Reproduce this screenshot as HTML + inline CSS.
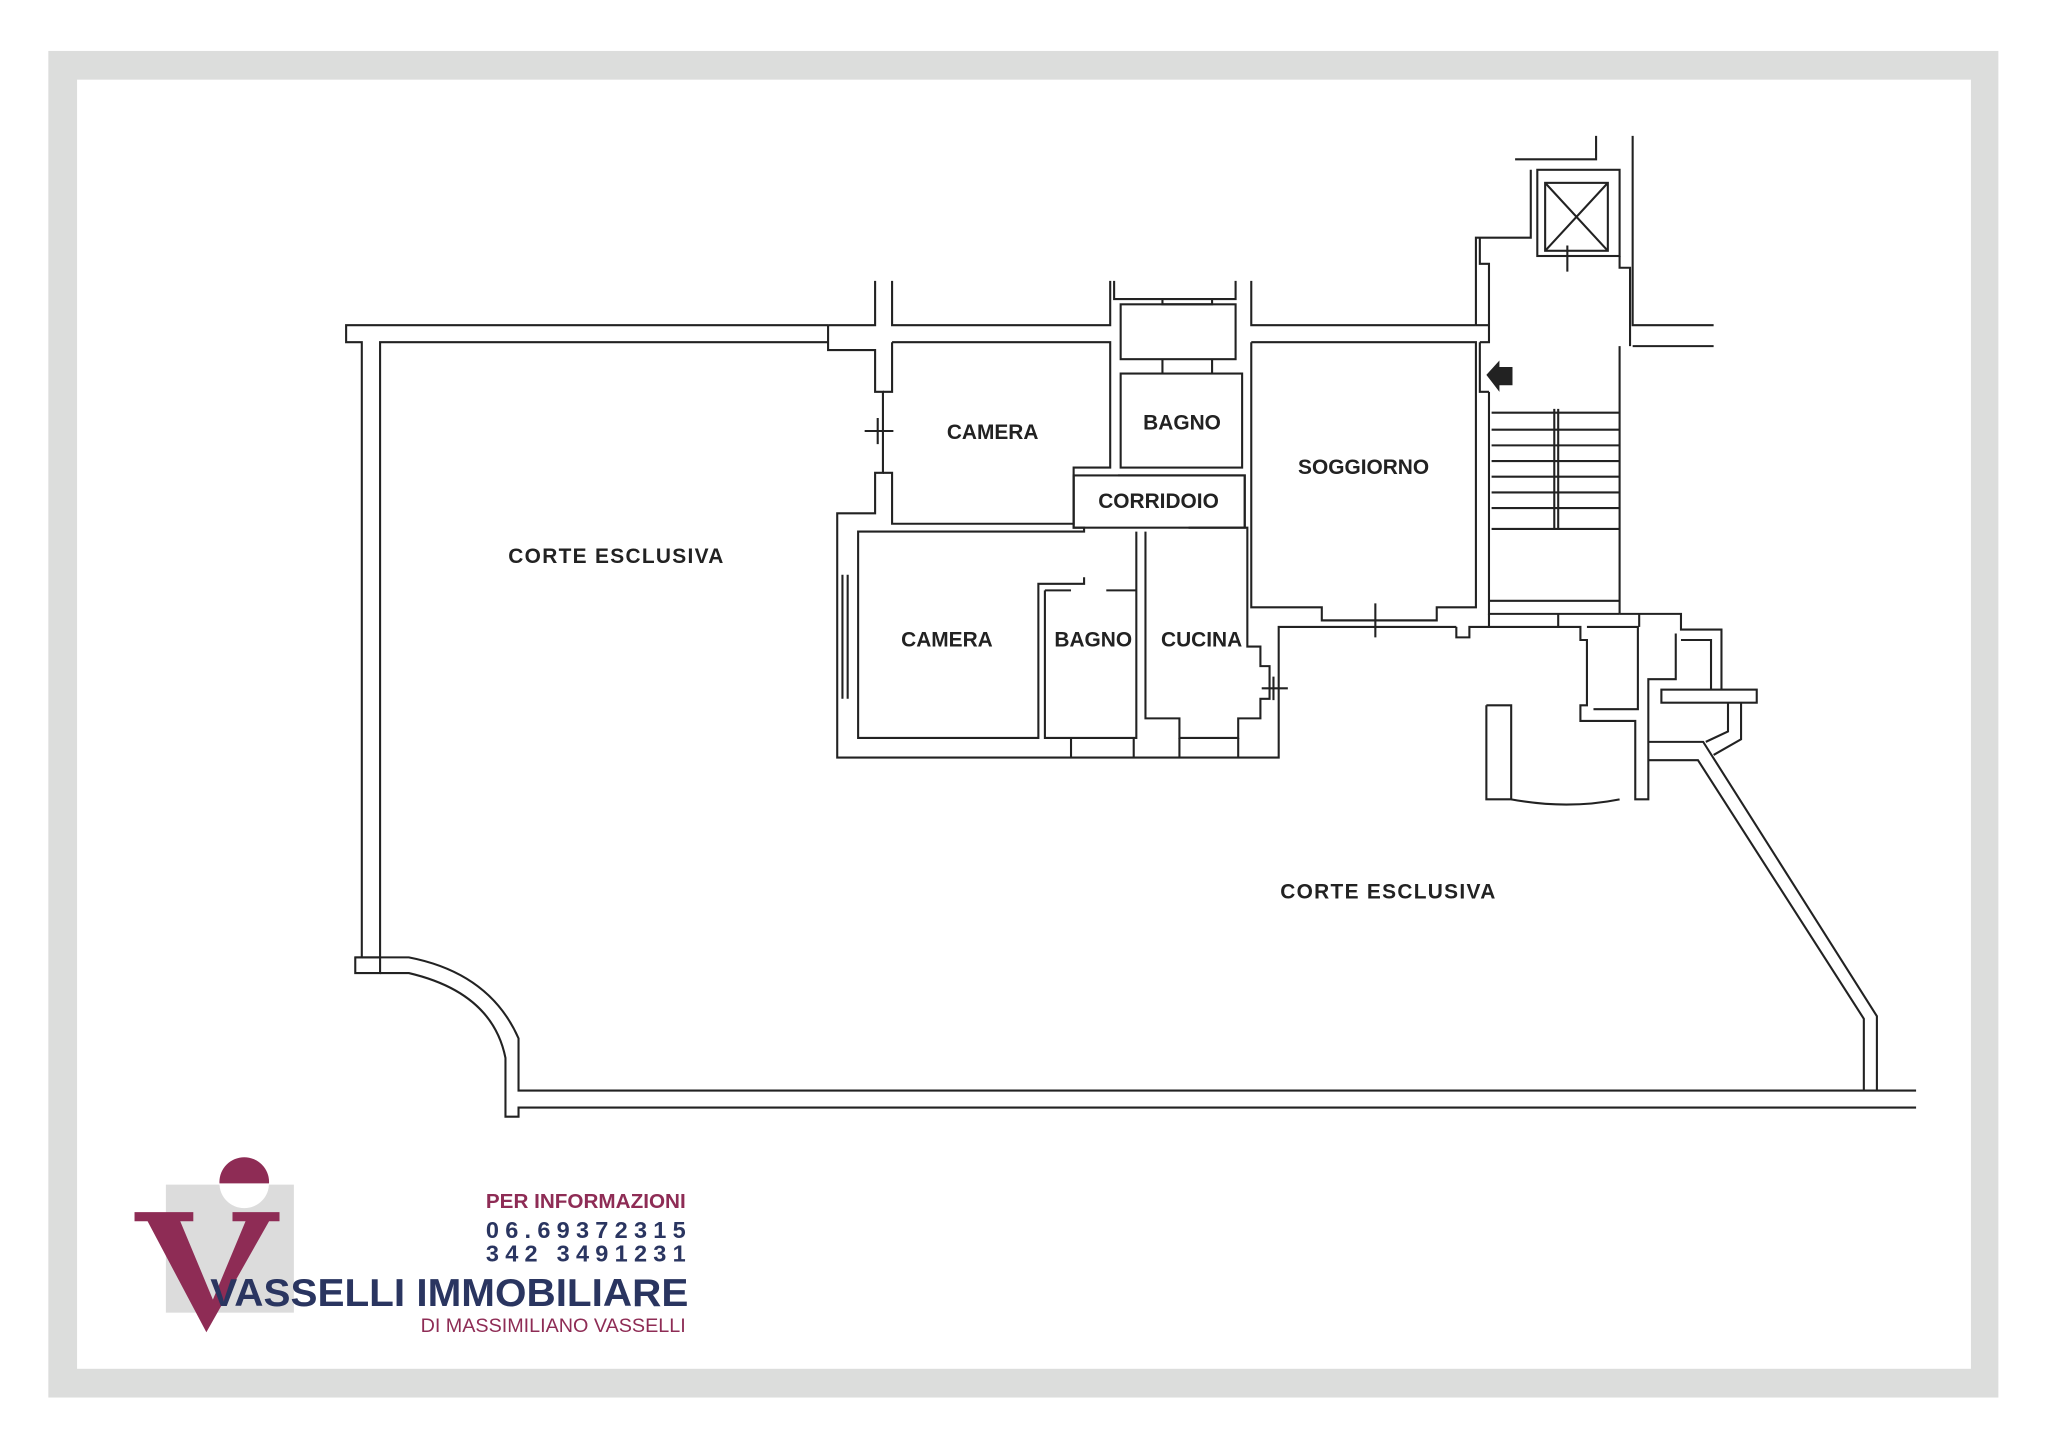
<!DOCTYPE html>
<html><head><meta charset="utf-8"><style>
html,body{margin:0;padding:0;background:#fff;}
svg{display:block}
</style></head><body>
<svg width="2048" height="1449" viewBox="0 0 1568 1109.4" preserveAspectRatio="none" xmlns="http://www.w3.org/2000/svg">
<rect x="0" y="0" width="1568" height="1110" fill="#fff"/>
<rect x="37" y="39" width="1493" height="1031" fill="#dcdddc"/>
<rect x="59" y="61" width="1450" height="987" fill="#fff"/>
<g fill="none" stroke="#222" stroke-width="1.6">
<polyline points="634,249 265,249 265,262 277,262 277,733 272,733 272,745 291,745 291,262 634,262"/>
<path d="M291,733 L277,733"/>
<path d="M272,733 L313,733 Q375,745 397,795 L397,835 L1467,835"/>
<path d="M291,745 L313,745 Q377,760 387,810 L387,855 L397,855 L397,848 L1467,848"/>
<polyline points="1262,582 1300,582 1427,780 1427,835"/>
<polyline points="1262,568 1304,568 1437,778 1437,835"/>
<polyline points="634,249 634,268 670,268 670,300 676,300 676,362 670,362 670,393 641,393 641,580 979,580 979,480 1115,480"/>
<polyline points="634,249 670,249 670,215"/>
<polyline points="683,215 683,249 850,249 850,215"/>
<polyline points="958,215 958,249 1130,249"/>
<path d="M645,440 V535 M649,440 V535"/>
<path d="M683,262 H850 V358 H822 V401 H683 V362 H676 M676,300 H683 V262"/>
<rect x="858" y="286" width="93" height="72"/>
<rect x="858" y="233" width="88" height="42"/>
<path d="M853,215 V229 H946 V215 M890,229 V233 H928 V229 M890,275 V286 M928,275 V286"/>
<polyline points="822,364 822,404 830,404 830,407 657,407 657,565 795,565 795,447 830,447 830,442"/>
<polyline points="856,364 953,364 953,404"/>
<rect x="822" y="364" width="131" height="40"/>
<polyline points="800,452 800,565 870,565 870,407"/>
<path d="M800,452 H820 M847,452 H870"/>
<polyline points="877,407 877,550 903,550 903,565 948,565 948,550 965,550 965,535 972,535 972,510 965,510 965,495 955,495 955,404 910,404"/>
<path d="M820,565 V580 M868,565 V580 M903,565 V580 M948,565 V580 M966,527 H986 M975,518 V536"/>
<polyline points="958,262 1130,262 1130,465 1100,465 1100,475 1012,475 1012,465 958,465 958,262"/>
<path d="M1012,475 H1100 M1053,462 V488 M662,330 H684 M672,320 V340"/>
<path d="M1130,249 V182 H1172 V130 M1160,122 H1222 V104 M1250,104 V249 H1312 M1250,265 H1312 M1240,265 V470"/>
<rect x="1177" y="130" width="63" height="66"/>
<rect x="1183" y="140" width="48" height="52"/>
<path d="M1183,140 L1231,192 M1231,140 L1183,192 M1200,188 V208"/>
<path d="M1133,182 V202 H1140 V262 H1133 M1140,300 V470 H1240 M1240,196 V205 H1248 V265 M1133,262 V300 H1140 M1130,249 H1140 V262"/>
<path d="M1142,316 H1240 M1142,329 H1240 M1142,341 H1240 M1142,353 H1240 M1142,365 H1240 M1142,377 H1240 M1142,389 H1240 M1142,405 H1240 M1190,313 V405 M1193,313 V405 M1140,460 H1240 M1140,470 V480 M1193,470 V480"/>
<polyline points="1115,480 1115,488 1125,488 1125,480 1210,480 1210,490 1215,490 1215,540 1210,540 1210,552 1252,552 1252,612 1262,612 1262,520 1283,520 1283,485"/>
<polyline points="1215,480 1254,480 1254,543 1220,543"/>
<polyline points="1138,540 1138,612 1157,612 1157,540 1138,540"/>
<path d="M1157,612 Q1200,620 1240,612"/>
<path d="M1240,470 H1255 V480 M1255,470 H1287 V482 H1318 V528"/>
<polyline points="1287,490 1310,490 1310,528"/>
<rect x="1272" y="528" width="73" height="10"/>
<path d="M1333,538 V566 L1312,578 M1323,538 V560 L1306,568"/>
</g>
<polygon points="1138,287 1148,276 1148,281 1158,281 1158,295 1148,295 1148,300" fill="#222"/>
<g font-family="'Liberation Sans',sans-serif" font-weight="bold" font-size="16" fill="#222" text-anchor="middle">
<text x="760" y="336">CAMERA</text>
<text x="905" y="329">BAGNO</text>
<text x="887" y="389">CORRIDOIO</text>
<text x="1044" y="363">SOGGIORNO</text>
<text x="472" y="431" letter-spacing="1">CORTE ESCLUSIVA</text>
<text x="725" y="495">CAMERA</text>
<text x="837" y="495">BAGNO</text>
<text x="920" y="495">CUCINA</text>
<text x="1063" y="688" letter-spacing="1">CORTE ESCLUSIVA</text>
</g>
<rect x="127" y="907" width="98" height="98" fill="#dcdcdc"/>
<path d="M103,928 H148 V935 H138 L163,995 L188,935 H178 V928 H214 V935 H206 L158,1020 L113,935 H103 Z" fill="#8e2c55"/>
<circle cx="187" cy="905" r="19" fill="#8e2c55"/>
<path d="M168,906 A19,19 0 0 0 206,906 Z" fill="#fff"/>
<g font-family="'Liberation Sans',sans-serif" font-weight="bold">
<text x="372" y="925" font-size="15.5" fill="#8e2c55" textLength="153" lengthAdjust="spacingAndGlyphs">PER INFORMAZIONI</text>
<text x="372" y="948" font-size="18" fill="#2a3560" textLength="153" lengthAdjust="spacing">06.69372315</text>
<text x="372" y="966" font-size="18" fill="#2a3560" textLength="153" lengthAdjust="spacing">342 3491231</text>
<text x="161" y="1000" font-size="30" fill="#2a3560" textLength="366" lengthAdjust="spacingAndGlyphs">VASSELLI IMMOBILIARE</text>
<text x="322" y="1020" font-size="14.5" font-weight="normal" fill="#8e2c55" textLength="203" lengthAdjust="spacingAndGlyphs">DI MASSIMILIANO VASSELLI</text>
</g>
</svg>
</body></html>
